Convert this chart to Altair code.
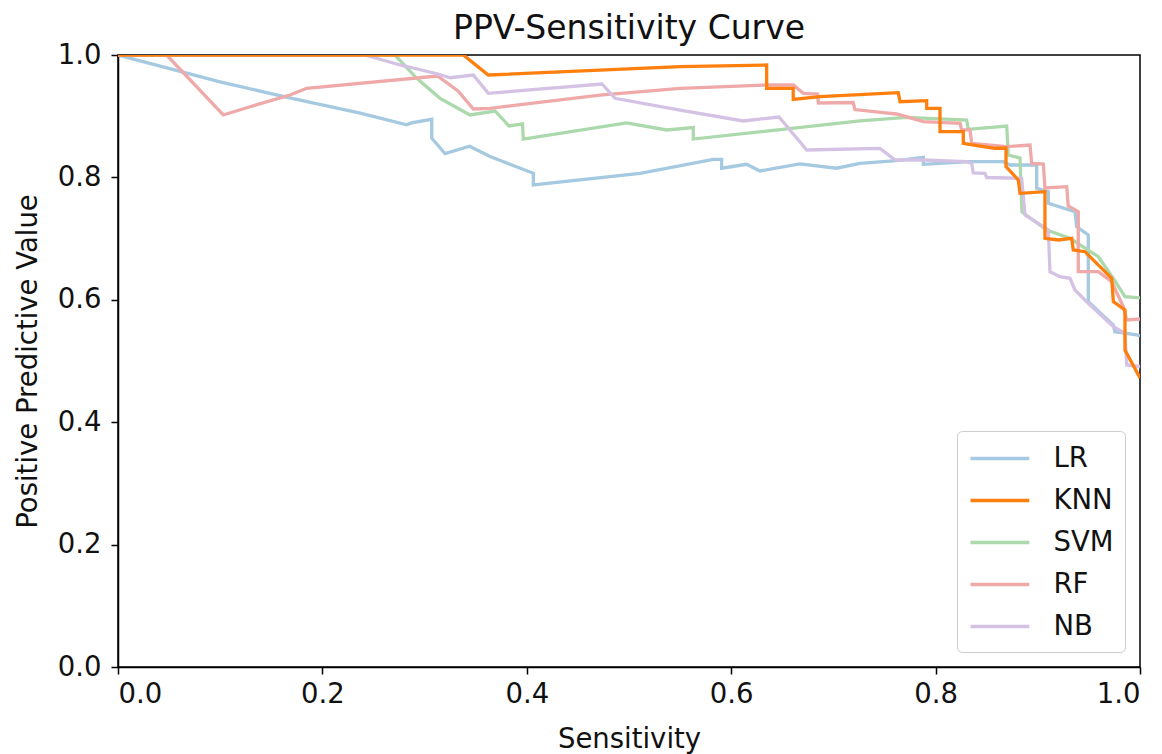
import altair as alt
import pandas as pd

models = ["LR", "KNN", "SVM", "RF", "NB"]
# tab10 colours; all but KNN are drawn at 40% opacity on white (pre-blended)
colors = ["#a5c9e1", "#ff7f0e", "#abd9ab", "#efa9a9", "#d4c2e5"]

lr_sens = [0.0, 0.0998, 0.168, 0.237, 0.2825, 0.287, 0.307, 0.307, 0.320, 0.344, 0.364, 0.4064, 0.4064,
           0.5108, 0.5825, 0.5906, 0.5906, 0.6151, 0.628, 0.667, 0.703, 0.726, 0.7619, 0.788, 0.788,
           0.8337, 0.8663, 0.8728, 0.8989, 0.8989, 0.9103, 0.9103, 0.9364, 0.938, 0.9494, 0.9494,
           0.9739, 0.9755, 0.9968, 1.0]
lr_ppv = [1.0, 0.956, 0.930, 0.905, 0.886, 0.889, 0.895, 0.864, 0.839, 0.851, 0.834, 0.8067, 0.7876,
          0.8067, 0.8296, 0.8296, 0.815, 0.8214, 0.8105, 0.822, 0.815, 0.823, 0.8273, 0.8329, 0.8214,
          0.8257, 0.8257, 0.8203, 0.8203, 0.7822, 0.7766, 0.7577, 0.7440, 0.7195, 0.7059, 0.5969,
          0.5588, 0.5479, 0.5425, 0.541]

knn_sens = [0.0, 0.3379, 0.3623, 0.5499, 0.6347, 0.6347, 0.6607, 0.6607, 0.6869, 0.7635, 0.7652,
            0.7913, 0.7913, 0.8043, 0.8043, 0.8271, 0.8271, 0.8434, 0.8581, 0.8689, 0.8689, 0.8809,
            0.8826, 0.907, 0.907, 0.9201, 0.9332, 0.9347, 0.9462, 0.9576, 0.9723, 0.9739, 0.9853,
            0.9853, 1.0]
knn_ppv = [1.0, 1.0, 0.9673, 0.981, 0.9837, 0.9456, 0.9456, 0.9273, 0.9319, 0.9384, 0.9237,
           0.9253, 0.9129, 0.9129, 0.8747, 0.8747, 0.8557, 0.8513, 0.8476, 0.848, 0.8175, 0.7958,
           0.774, 0.7766, 0.7005, 0.6977, 0.7005, 0.6814, 0.6786, 0.6596, 0.6351, 0.5969, 0.5833,
           0.518, 0.4722]

svm_sens = [0.0, 0.271, 0.2923, 0.3151, 0.3444, 0.3689, 0.3826, 0.3958, 0.3966, 0.4977, 0.5369,
            0.5629, 0.5629, 0.726, 0.7717, 0.8304, 0.832, 0.8696, 0.8711, 0.8826, 0.8845, 0.9087,
            0.9315, 0.9592, 0.9739, 0.9853, 1.0]
svm_ppv = [1.0, 1.0, 0.9619, 0.9292, 0.902, 0.9085, 0.884, 0.8873, 0.8627, 0.8889, 0.8775,
           0.8815, 0.8627, 0.8922, 0.8982, 0.8938, 0.8786, 0.884, 0.8366, 0.8317, 0.7435, 0.7141,
           0.7005, 0.6704, 0.6351, 0.6051, 0.603]

rf_sens = [0.0, 0.0476, 0.103, 0.1292, 0.1683, 0.1846, 0.3126, 0.3327, 0.3477, 0.364, 0.4716, 0.5499,
           0.6341, 0.6608, 0.6706, 0.6845, 0.6853, 0.7192, 0.7211, 0.7488, 0.7619, 0.788, 0.8239,
           0.8255, 0.8337, 0.8353, 0.8696, 0.8924, 0.894, 0.9054, 0.907, 0.9283, 0.9298, 0.9396,
           0.9396, 0.9592, 0.9723, 0.9837, 0.987, 1.0]
rf_ppv = [1.0, 1.0, 0.902, 0.9155, 0.9346, 0.9456, 0.9657, 0.9412, 0.9118, 0.9129, 0.9346, 0.9456,
          0.951, 0.951, 0.9374, 0.9363, 0.9216, 0.9224, 0.9109, 0.9057, 0.9036, 0.891, 0.8884,
          0.8775, 0.8775, 0.8557, 0.8502, 0.8529, 0.823, 0.8219, 0.7827, 0.7848, 0.7533, 0.744,
          0.6459, 0.6459, 0.6296, 0.5887, 0.567, 0.5686]

nb_sens = [0.0, 0.2417, 0.2759, 0.3131, 0.3249, 0.3477, 0.3623, 0.4736, 0.4863, 0.5499, 0.6118,
           0.6468, 0.6739, 0.7456, 0.7603, 0.788, 0.8304, 0.8353, 0.8369, 0.8483, 0.85, 0.8842,
           0.8875, 0.9103, 0.9119, 0.9217, 0.9315, 0.9364, 0.9478, 0.9739, 0.9853, 0.987, 1.0]
nb_ppv = [1.0, 1.0, 0.9837, 0.969, 0.9629, 0.9673, 0.9374, 0.9526, 0.9292, 0.9101, 0.8922,
          0.8987, 0.8448, 0.8475, 0.8284, 0.8284, 0.8257, 0.823, 0.8072, 0.8067, 0.7998, 0.7985,
          0.7386, 0.7141, 0.6459, 0.6377, 0.6351, 0.616, 0.5969, 0.556, 0.5453, 0.4935, 0.491]

series = {
    "LR": (lr_sens, lr_ppv),
    "KNN": (knn_sens, knn_ppv),
    "SVM": (svm_sens, svm_ppv),
    "RF": (rf_sens, rf_ppv),
    "NB": (nb_sens, nb_ppv),
}

rows = []
for m in models:
    s_list, p_list = series[m]
    for i, (s, p) in enumerate(zip(s_list, p_list)):
        rows.append({"model": m, "sens": s, "ppv": p, "idx": i})
df = pd.DataFrame(rows)

FONT = "DejaVu Sans"
ticks = [0, 0.2, 0.4, 0.6, 0.8, 1.0]

base = alt.Chart(df).mark_line(strokeWidth=3.3, clip=True).encode(
    x=alt.X("sens:Q", title="Sensitivity",
            scale=alt.Scale(domain=[0, 1], nice=False, zero=False),
            axis=alt.Axis(values=ticks, format=".1f")),
    y=alt.Y("ppv:Q", title="Positive Predictive Value",
            scale=alt.Scale(domain=[0, 1], nice=False, zero=False),
            axis=alt.Axis(values=ticks, format=".1f")),
    color=alt.Color("model:N", title=None, sort=models,
                    scale=alt.Scale(domain=models, range=colors),
                    legend=alt.Legend(
                        orient="bottom-right", offset=15, padding=11.5,
                        symbolType="M-1,0H3.2", symbolSize=784, symbolStrokeWidth=3.3,
                        labelFontSize=27.5, labelFont=FONT, labelColor="#111",
                        labelOffset=53, rowPadding=12,
                        strokeColor="#cccccc", fillColor="white", cornerRadius=5,
                    )),
    order=alt.Order("idx:Q"),
    detail="model:N",
)

others = base.transform_filter(alt.datum.model != "KNN")
knn = base.transform_filter(alt.datum.model == "KNN")

chart = alt.layer(others, knn).properties(
    width=1022,
    height=612,
    title=alt.TitleParams("PPV-Sensitivity Curve", fontSize=33, font=FONT,
                          fontWeight="normal", color="#111", offset=-5),
    autosize=alt.AutoSizeParams(type="none"),
    padding={"left": 110, "top": 47, "right": 14, "bottom": 87},
).configure_view(
    stroke="black", strokeWidth=1.5
).configure_axis(
    grid=False, domainColor="black", domainWidth=1.5, tickColor="black", tickWidth=1.5,
    tickSize=7, labelFont=FONT, labelFontSize=27.5, labelColor="#111",
    titleFont=FONT, titleFontSize=27.5, titleFontWeight="normal", titleColor="#111",
).configure_axisX(labelPadding=6, titlePadding=18).configure_axisY(labelPadding=10, titlePadding=15)

chart.save("out.html", embed_options={"renderer": "svg", "actions": False})
